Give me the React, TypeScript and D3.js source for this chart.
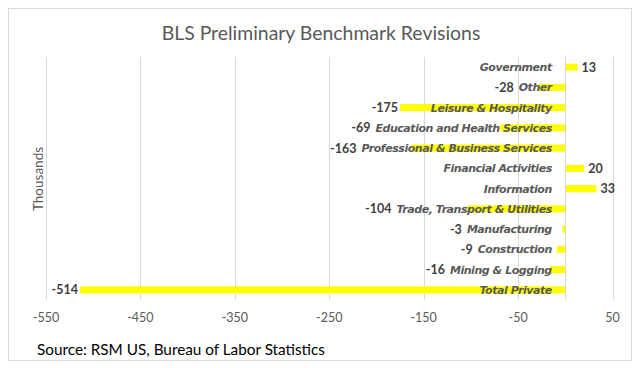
import React, { useEffect, useRef } from 'react';
import * as d3 from 'd3';

const categories = [
  'Government',
  'Other',
  'Leisure & Hospitality',
  'Education and Health Services',
  'Professional & Business Services',
  'Financial Activities',
  'Information',
  'Trade, Transport & Utilities',
  'Manufacturing',
  'Construction',
  'Mining & Logging',
  'Total Private',
];
const revisions = [13, -28, -175, -69, -163, 20, 33, -104, -3, -9, -16, -514];
const xTicks = [-550, -450, -350, -250, -150, -50, 50];

const App = () => {
  const svgRef = useRef<SVGSVGElement>(null);

  useEffect(() => {
    const svg = d3.select(svgRef.current);
    svg.selectAll('*').remove();
    const width = 640;
    const height = 368;
    const margin = { top: 57, right: 27.5, bottom: 68, left: 46 };
    const innerWidth = width - margin.left - margin.right;
    const innerHeight = height - margin.top - margin.bottom;

    // outer chart border
    svg.append('rect')
      .attr('x', 8.5).attr('y', 8.5)
      .attr('width', 623).attr('height', 352)
      .attr('fill', '#fff')
      .attr('stroke', '#d9d9d9');

    svg.append('text')
      .attr('x', 321).attr('y', 40)
      .attr('text-anchor', 'middle')
      .attr('font-family', 'Lato')
      .attr('font-size', 19.4)
      .attr('fill', '#595959')
      .text('BLS Preliminary Benchmark Revisions');

    svg.append('text')
      .attr('transform', 'translate(43,179) rotate(-90)')
      .attr('text-anchor', 'middle')
      .attr('font-family', 'Lato')
      .attr('font-size', 13.5)
      .attr('fill', '#595959')
      .text('Thousands');

    svg.append('text')
      .attr('x', 37).attr('y', 355)
      .attr('font-family', 'Lato')
      .attr('font-size', 15.3)
      .attr('fill', '#000')
      .text('Source: RSM US, Bureau of Labor Statistics');

    const g = svg.append('g')
      .attr('transform', `translate(${margin.left},${margin.top})`);

    const x = d3.scaleLinear().domain([-550, 50]).range([0, innerWidth]);
    const y = d3.scaleBand().domain(categories).range([0, innerHeight]).paddingInner(0.65).paddingOuter(0.325);

    // vertical grid
    g.append('g')
      .selectAll('line')
      .data(xTicks)
      .enter().append('line')
      .attr('x1', d => Math.round(x(d)) + 0.5)
      .attr('x2', d => Math.round(x(d)) + 0.5)
      .attr('y1', 0)
      .attr('y2', innerHeight)
      .attr('stroke', '#d9d9d9');

    // tick labels
    g.append('g')
      .selectAll('text')
      .data(xTicks)
      .enter().append('text')
      .attr('x', d => x(d))
      .attr('y', innerHeight + 22)
      .attr('text-anchor', 'middle')
      .attr('font-family', 'Lato')
      .attr('font-size', 12.5)
      .attr('fill', '#595959')
      .text(d => d);

    // bars
    g.append('g')
      .selectAll('rect')
      .data(revisions)
      .enter().append('rect')
      .attr('x', d => x(Math.min(0, d)))
      .attr('y', (d, i) => y(categories[i]))
      .attr('width', d => Math.abs(x(d) - x(0)))
      .attr('height', y.bandwidth())
      .attr('fill', '#ffff00');

    // category axis line at zero
    g.append('line')
      .attr('x1', Math.round(x(0)) + 0.5)
      .attr('x2', Math.round(x(0)) + 0.5)
      .attr('y1', 0)
      .attr('y2', innerHeight)
      .attr('stroke', '#d9d9d9');

    // category labels
    const catLabels = g.append('g')
      .selectAll('text')
      .data(categories)
      .enter().append('text')
      .attr('x', x(0) - 13.5)
      .attr('y', d => y(d) + y.bandwidth() / 2)
      .attr('dy', '0.36em')
      .attr('text-anchor', 'end')
      .attr('font-family', 'DejaVu Sans')
      .attr('font-weight', 'bold')
      .attr('font-style', 'italic')
      .attr('font-size', 11)
      .attr('letter-spacing', -0.45)
      .attr('fill', '#595959')
      .text(d => d);

    const catStart: number[] = [];
    catLabels.each(function () {
      const len = (this as SVGTextElement).getComputedTextLength();
      catStart.push(x(0) - 13.5 - len);
    });

    // value labels
    g.append('g')
      .selectAll('text')
      .data(revisions)
      .enter().append('text')
      .attr('x', (d, i) => d < 0 ? Math.min(x(d) - 2, catStart[i] - 5) : x(d) + 4)
      .attr('y', (d, i) => y(categories[i]) + y.bandwidth() / 2)
      .attr('dy', '0.36em')
      .attr('text-anchor', d => d < 0 ? 'end' : 'start')
      .attr('font-family', 'Lato')
      .attr('font-weight', 'bold')
      .attr('font-size', 12.5)
      .attr('fill', '#404040')
      .text(d => d);
  }, []);

  return (
    <svg
      ref={svgRef}
      width={640}
      height={368}
      style={{ position: 'absolute', left: 0, top: 0, background: '#fff' }}
    ></svg>
  );
};

export default App;
